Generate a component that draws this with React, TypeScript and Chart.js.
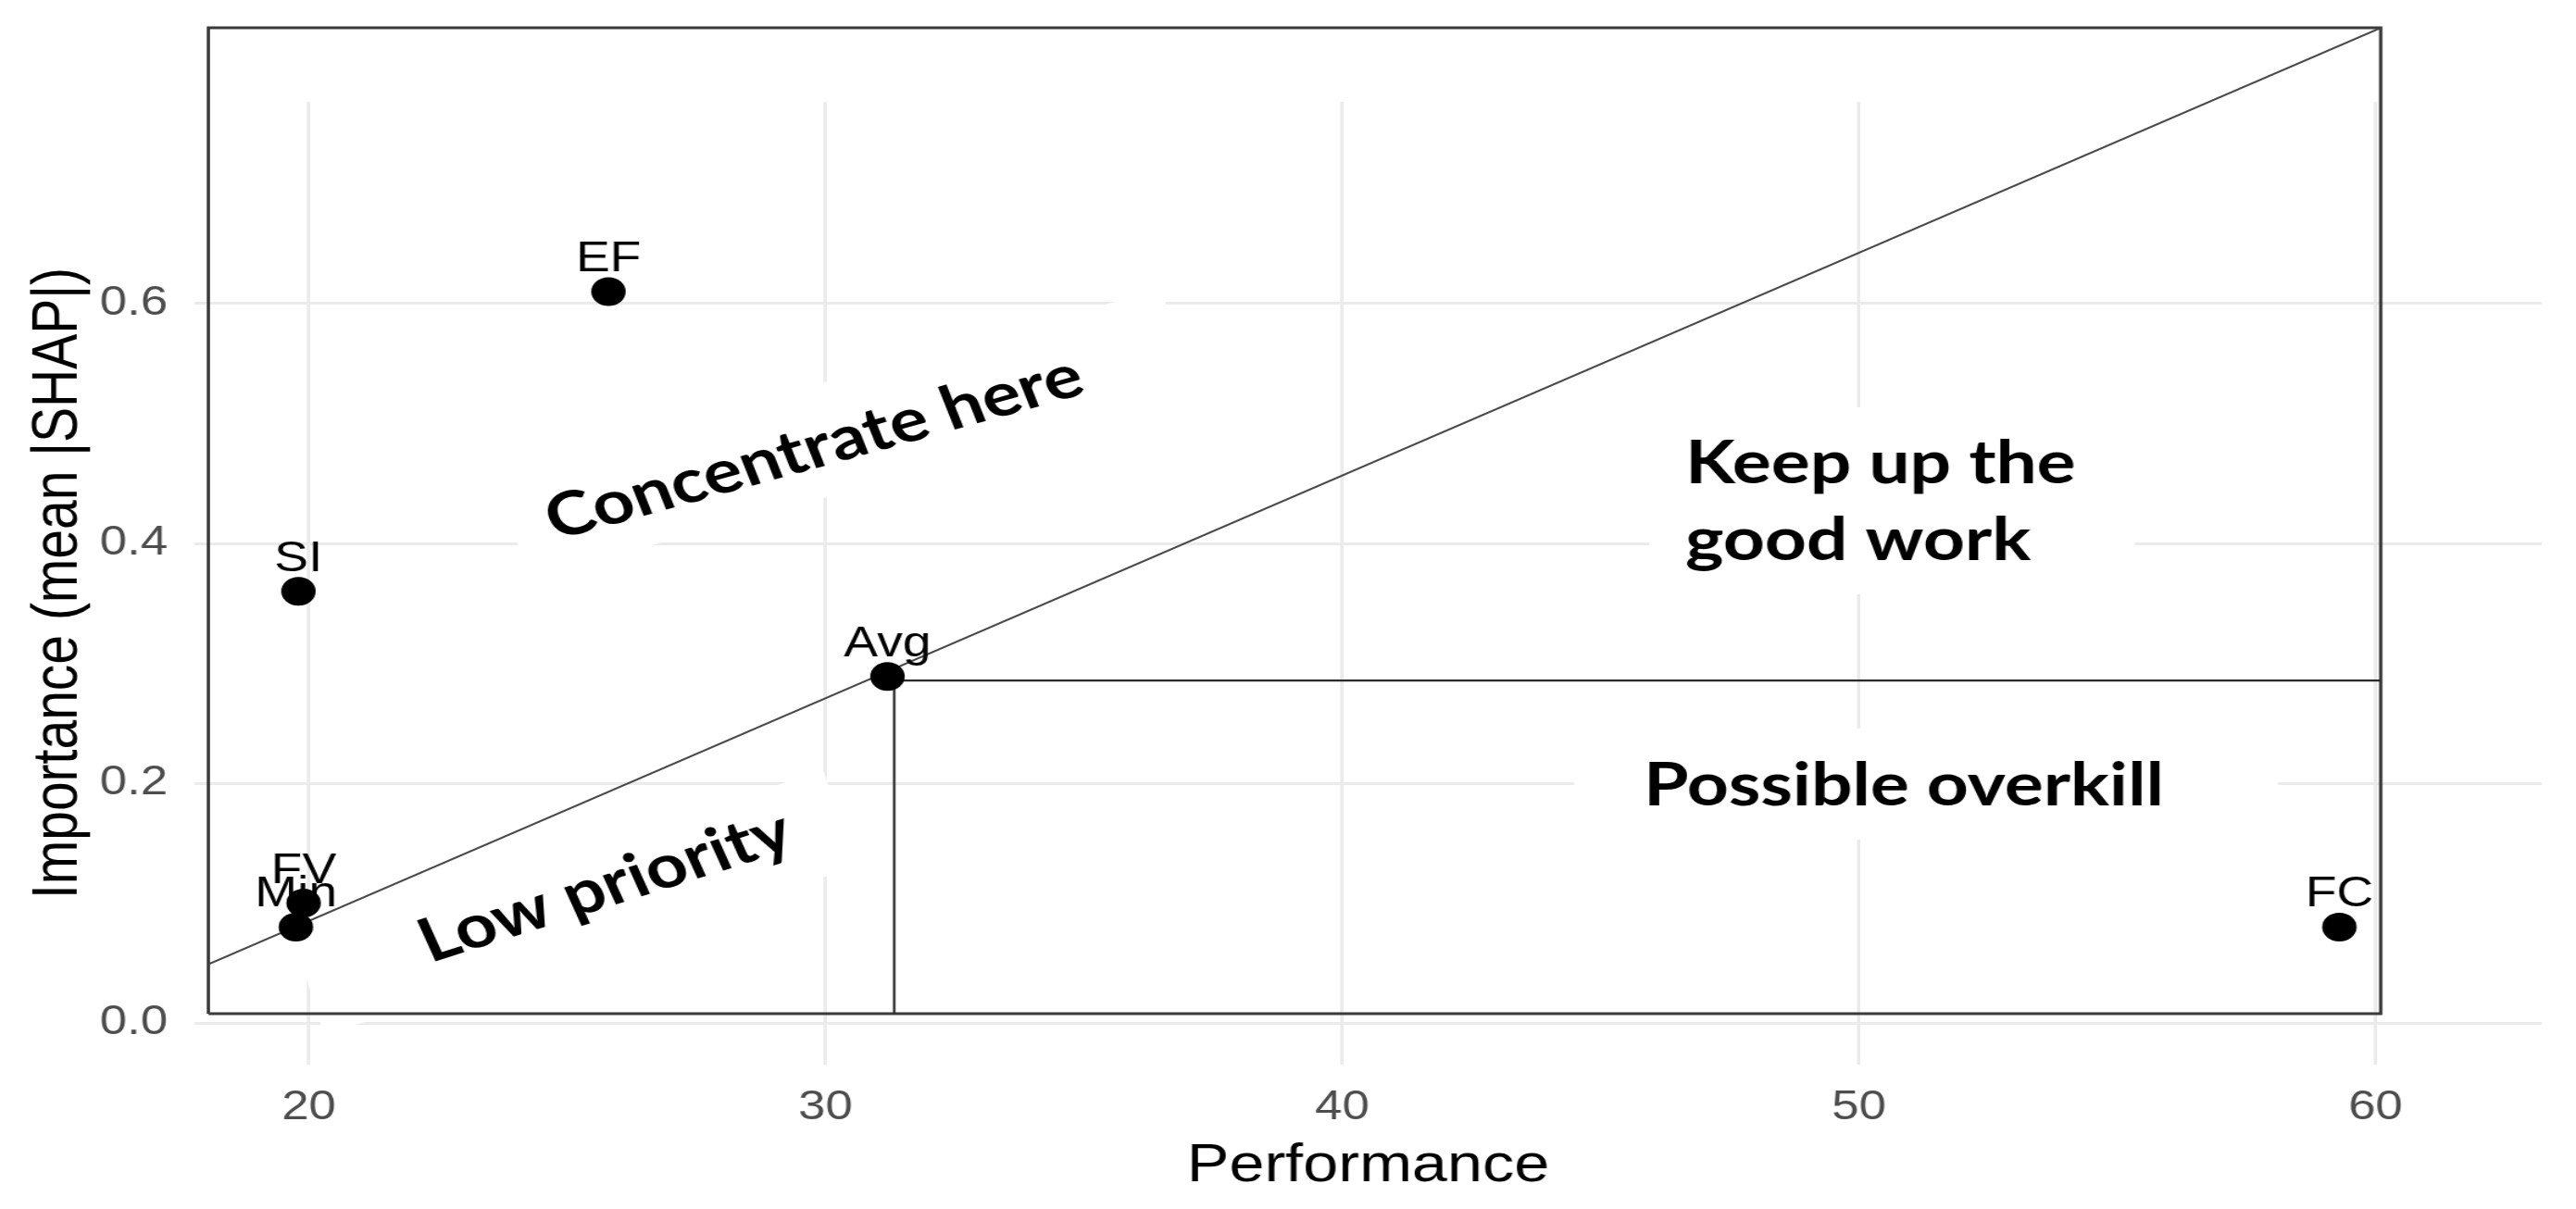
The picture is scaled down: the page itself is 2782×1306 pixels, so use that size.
import React, { useEffect, useRef } from "react";
import { Chart, registerables } from "chart.js";

Chart.register(...registerables);

// ---------------- data ----------------
const pointLabels = ["EF", "SI", "Avg", "FV", "Min", "FC"];
const performance = [25.8, 19.8, 31.2, 19.9, 19.75, 59.3];
const importance = [0.61, 0.36, 0.289, 0.1, 0.08, 0.08];

const xTicks = [20, 30, 40, 50, 60];
const yTicks = [0, 0.2, 0.4, 0.6];
const xRange = [17.787, 63.217];
const yRange = [-0.0347, 0.7683];

// quadrant frame and reference lines (data units)
const frameX = [18.056, 18.056, 60.1, 60.1, 18.056];
const frameY = [0.0077, 0.83, 0.83, 0.0077, 0.0077];
const diagonalX = [18.056, 60.1];
const diagonalY = [0.0489, 0.83];
const avgLineX = [60.1, 31.33, 31.33];
const avgLineY = [0.2857, 0.2857, 0.0077];

const xTitle = "Performance";
const yTitle = "Importance (mean |SHAP|)";

// annotation texts (anchored in data units)
const annotations = [
  { lines: ["Concentrate here"], x: 29.78, y: 0.4795, angle: 15.5, align: "center" },
  { lines: ["Low priority"], x: 25.74, y: 0.1135, angle: 17.5, align: "center" },
  { lines: ["Keep up the", "good work"], x: 46.64, y: 0.45, angle: 0, align: "left" },
  { lines: ["Possible overkill"], x: 50.87, y: 0.1815, angle: 0, align: "center" },
];
// white text-box backgrounds (centre in data units, half sizes in px)
const textBoxes = [
  { x: 30.37, y: 0.491, hw: 372, hh: 60, angle: 15.5 },
  { x: 25.13, y: 0.1004, hw: 300, hh: 55, angle: 17.5 },
  { x: 50.64, y: 0.4355, hw: 262, hh: 101, angle: 0 },
  { x: 51.3, y: 0.1992, hw: 380, hh: 60, angle: 0 },
];

// ---------------- layout ----------------
const CSS_W = 2782;
const CSS_H = 1306;
const STRETCH = 1.2;
const PX_W = Math.round(CSS_W / STRETCH);
const S = CSS_W / PX_W;

const SANS = "'Liberation Sans', Arial, Helvetica, sans-serif";
const ANNOT_FONT = "Lato, 'Open Sans', sans-serif";

const decorPlugin = {
  id: "decor",
  beforeDatasetsDraw(chart: any) {
    const { ctx } = chart;
    const xs = chart.scales.x;
    const ys = chart.scales.y;
    ctx.save();
    ctx.scale(1 / S, 1);
    ctx.fillStyle = "#ffffff";
    for (const b of textBoxes) {
      const cx = xs.getPixelForValue(b.x) * S;
      const cy = ys.getPixelForValue(b.y);
      ctx.save();
      ctx.translate(cx, cy);
      ctx.rotate((-b.angle * Math.PI) / 180);
      ctx.fillRect(-b.hw, -b.hh, 2 * b.hw, 2 * b.hh);
      ctx.restore();
    }
    ctx.restore();
  },
  afterDatasetsDraw(chart: any) {
    const { ctx } = chart;
    const xs = chart.scales.x;
    const ys = chart.scales.y;
    const meta = chart.getDatasetMeta(0);
    ctx.save();
    // point labels
    ctx.fillStyle = "#000";
    ctx.font = `46px ${SANS}`;
    ctx.textAlign = "center";
    ctx.textBaseline = "alphabetic";
    meta.data.forEach((el: any, i: number) => {
      ctx.fillText(pointLabels[i], el.x, el.y - 22);
    });
    // annotations
    ctx.font = `bold 100px ${ANNOT_FONT}`;
    const w = ctx.measureText("Possible overkill").width;
    const size = (100 * 468) / w;
    ctx.font = `bold ${size.toFixed(1)}px ${ANNOT_FONT}`;
    for (const a of annotations) {
      const px = xs.getPixelForValue(a.x);
      const py = ys.getPixelForValue(a.y);
      ctx.save();
      ctx.translate(px, py);
      if (a.angle) {
        const ai = Math.atan(S * Math.tan((a.angle * Math.PI) / 180));
        ctx.rotate(-ai);
        ctx.textAlign = "center";
        ctx.textBaseline = "middle";
        ctx.fillText(a.lines[0], 0, 0);
      } else {
        ctx.textAlign = a.align as CanvasTextAlign;
        ctx.textBaseline = "alphabetic";
        a.lines.forEach((ln, k) => ctx.fillText(ln, 0, k * 83));
      }
      ctx.restore();
    }
    ctx.restore();
  },
};

export default function App() {
  const ref = useRef<HTMLCanvasElement>(null);

  useEffect(() => {
    const canvas = ref.current;
    if (!canvas) return;
    const toPts = (xa: number[], ya: number[]) => xa.map((x, i) => ({ x, y: ya[i] }));
    const lineDs = (label: string, pts: any[], color: string, width: number, order: number) => ({
      label,
      data: pts,
      showLine: true,
      borderColor: color,
      borderWidth: width,
      pointRadius: 0,
      pointHoverRadius: 0,
      fill: false,
      tension: 0,
      clip: false as any,
      order,
    });
    const chart = new Chart(canvas, {
      type: "scatter",
      data: {
        datasets: [
          {
            label: "features",
            data: toPts(performance, importance),
            backgroundColor: "#000000",
            borderWidth: 0,
            pointRadius: 15.5,
            pointHoverRadius: 15.5,
            order: 0,
          } as any,
          lineDs("frame", toPts(frameX, frameY), "#3a3a3a", 3, 3),
          lineDs("diagonal", toPts(diagonalX, diagonalY), "#444444", 2, 2),
          lineDs("average", toPts(avgLineX, avgLineY), "#2a2a2a", 2.2, 1),
        ],
      },
      plugins: [decorPlugin],
      options: {
        responsive: false,
        animation: false,
        events: [],
        layout: { padding: { left: 0, right: PX_W - 2745 / S, top: 110, bottom: 0 } },
        plugins: { legend: { display: false }, tooltip: { enabled: false } },
        scales: {
          x: {
            type: "linear",
            min: xRange[0],
            max: xRange[1],
            afterBuildTicks: (s: any) => {
              s.ticks = xTicks.map((v) => ({ value: v }));
            },
            afterFit: (s: any) => {
              s.height = CSS_H - 1150;
            },
            grid: { color: "#EBEBEB", lineWidth: 3, drawTicks: false },
            border: { display: false },
            ticks: {
              padding: 20,
              color: "#4D4D4D",
              font: { size: 44, family: SANS },
              maxRotation: 0,
              callback: (v: any) => String(v),
            },
            title: {
              display: true,
              text: xTitle,
              color: "#000",
              font: { size: 57, family: SANS, lineHeight: 1 },
              padding: { top: 0, bottom: 17 },
            },
          },
          y: {
            type: "linear",
            min: yRange[0],
            max: yRange[1],
            afterBuildTicks: (s: any) => {
              s.ticks = yTicks.map((v) => ({ value: v }));
            },
            afterFit: (s: any) => {
              s.width = 210 / S;
            },
            grid: { color: "#EBEBEB", lineWidth: 3, drawTicks: false },
            border: { display: false },
            ticks: {
              padding: 24,
              color: "#4D4D4D",
              font: { size: 44, family: SANS },
              callback: (v: any) => Number(v).toFixed(1),
            },
            title: {
              display: true,
              text: yTitle,
              color: "#000",
              font: { size: 57, family: SANS, lineHeight: 1 },
              padding: { top: 25, bottom: 0 },
            },
          },
        },
      },
    } as any);
    return () => chart.destroy();
  }, []);

  return (
    <div style={{ position: "absolute", left: 0, top: 0, width: CSS_W, height: CSS_H, background: "#ffffff" }}>
      <canvas
        ref={ref}
        width={PX_W}
        height={CSS_H}
        style={{ width: `${CSS_W}px`, height: `${CSS_H}px`, display: "block" }}
      />
    </div>
  );
}
